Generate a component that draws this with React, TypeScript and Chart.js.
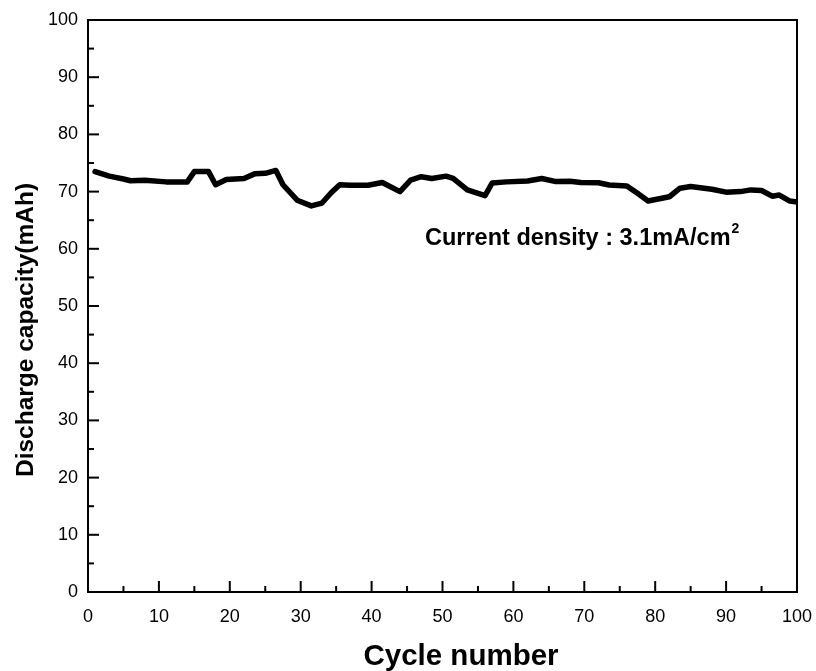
import React, { useEffect, useRef } from "react";
import { Chart, registerables } from "chart.js";

Chart.register(...registerables);

const cycles = [1, 3, 5, 6, 8, 11, 14, 15, 17, 18, 19.5, 22, 23.5, 25, 26.5, 27.5, 29.5, 31.5, 33, 34.3, 35.5, 37, 39.5, 41.5, 44, 45.5, 47, 48.5, 50.5, 51.5, 53.5, 56, 57, 59, 62, 64, 66, 68, 69.5, 72, 73.5, 76, 77.5, 79, 82, 83.5, 85, 88, 90, 92, 93.5, 95, 96.5, 97.5, 99, 100];
const capacity = [73.5, 72.7, 72.2, 71.9, 72.0, 71.7, 71.7, 73.5, 73.5, 71.2, 72.1, 72.3, 73.1, 73.2, 73.7, 71.2, 68.5, 67.5, 68.0, 69.8, 71.2, 71.1, 71.1, 71.6, 70.0, 72.0, 72.6, 72.3, 72.7, 72.3, 70.3, 69.3, 71.5, 71.7, 71.85, 72.3, 71.75, 71.8, 71.6, 71.55, 71.15, 71.0, 69.7, 68.35, 69.1, 70.6, 70.9, 70.4, 69.9, 70.0, 70.3, 70.2, 69.2, 69.4, 68.35, 68.2];

const xTickValues = [0, 10, 20, 30, 40, 50, 60, 70, 80, 90, 100];
const yTickValues = [0, 10, 20, 30, 40, 50, 60, 70, 80, 90, 100];

const xTitle = "Cycle number";
const yTitle = "Discharge capacity(mAh)";
const noteText = "Current density : 3.1mA/cm";
const noteSup = "2";

const FONT = "'Liberation Sans', Arial, sans-serif";

const framePlugin = {
  id: "frame",
  afterDraw(chart: any) {
    const { ctx, chartArea } = chart;
    const xs = chart.scales.x;
    const ys = chart.scales.y;
    const { left, right, top, bottom } = chartArea;
    ctx.save();
    ctx.strokeStyle = "#000";
    ctx.lineWidth = 2;
    ctx.lineCap = "butt";
    ctx.strokeRect(left, top, right - left, bottom - top);
    for (let v = 0; v <= 100; v += 5) {
      const px = xs.getPixelForValue(v);
      const len = v % 10 === 0 ? 11 : 6;
      ctx.beginPath();
      ctx.moveTo(px, bottom);
      ctx.lineTo(px, bottom - len);
      ctx.stroke();
    }
    for (let v = 0; v <= 100; v += 5) {
      const py = ys.getPixelForValue(v);
      const len = v % 10 === 0 ? 11 : 6;
      ctx.beginPath();
      ctx.moveTo(left, py);
      ctx.lineTo(left + len, py);
      ctx.stroke();
    }
    ctx.fillStyle = "#000";
    ctx.font = `bold 29.5px ${FONT}`;
    ctx.textAlign = "center";
    ctx.textBaseline = "alphabetic";
    ctx.fillText(xTitle, 461, 665);
    ctx.save();
    ctx.translate(33, 330);
    ctx.rotate(-Math.PI / 2);
    ctx.font = `bold 24.5px ${FONT}`;
    ctx.fillText(yTitle, 0, 0);
    ctx.restore();
    ctx.font = `bold 23.5px ${FONT}`;
    ctx.textAlign = "left";
    ctx.fillText(noteText, 425, 245);
    const w = ctx.measureText(noteText).width;
    ctx.font = `bold 14px ${FONT}`;
    ctx.fillText(noteSup, 425 + w + 1, 233);
    ctx.restore();
  },
};

export default function App() {
  const ref = useRef<HTMLCanvasElement>(null);
  useEffect(() => {
    if (!ref.current) return;
    const chart = new Chart(ref.current, {
      type: "line",
      data: {
        datasets: [
          {
            data: cycles.map((c, i) => ({ x: c, y: capacity[i] })),
            borderColor: "#000",
            borderWidth: 5.5,
            pointRadius: 0,
            tension: 0,
            borderJoinStyle: "round",
            borderCapStyle: "round",
            fill: false,
          },
        ],
      },
      options: {
        animation: false,
        responsive: false,
        devicePixelRatio: 1,
        layout: { padding: { left: 0, top: 20, right: 19, bottom: 0 } },
        plugins: { legend: { display: false }, tooltip: { enabled: false } },
        scales: {
          x: {
            type: "linear",
            min: 0,
            max: 100,
            afterBuildTicks: (s: any) => {
              s.ticks = xTickValues.map((v) => ({ value: v }));
            },
            afterFit: (s: any) => {
              s.height = 79;
              s.paddingLeft = 0;
              s.paddingRight = 0;
            },
            grid: { display: false, drawTicks: false },
            border: { display: false },
            ticks: {
              color: "#000",
              font: { family: FONT, size: 18 },
              padding: 14,
              maxRotation: 0,
            },
          },
          y: {
            type: "linear",
            min: 0,
            max: 100,
            afterBuildTicks: (s: any) => {
              s.ticks = yTickValues.map((v) => ({ value: v }));
            },
            afterFit: (s: any) => {
              s.width = 88;
              s.paddingTop = 0;
              s.paddingBottom = 0;
            },
            grid: { display: false, drawTicks: false },
            border: { display: false },
            ticks: {
              color: "#000",
              font: { family: FONT, size: 18 },
              padding: 10,
            },
          },
        },
      },
      plugins: [framePlugin],
    } as any);
    return () => chart.destroy();
  }, []);
  return (
    <div style={{ position: "absolute", left: 0, top: 0, width: 816, height: 671, background: "#fff" }}>
      <canvas ref={ref} width={816} height={671} style={{ display: "block" }} />
    </div>
  );
}
